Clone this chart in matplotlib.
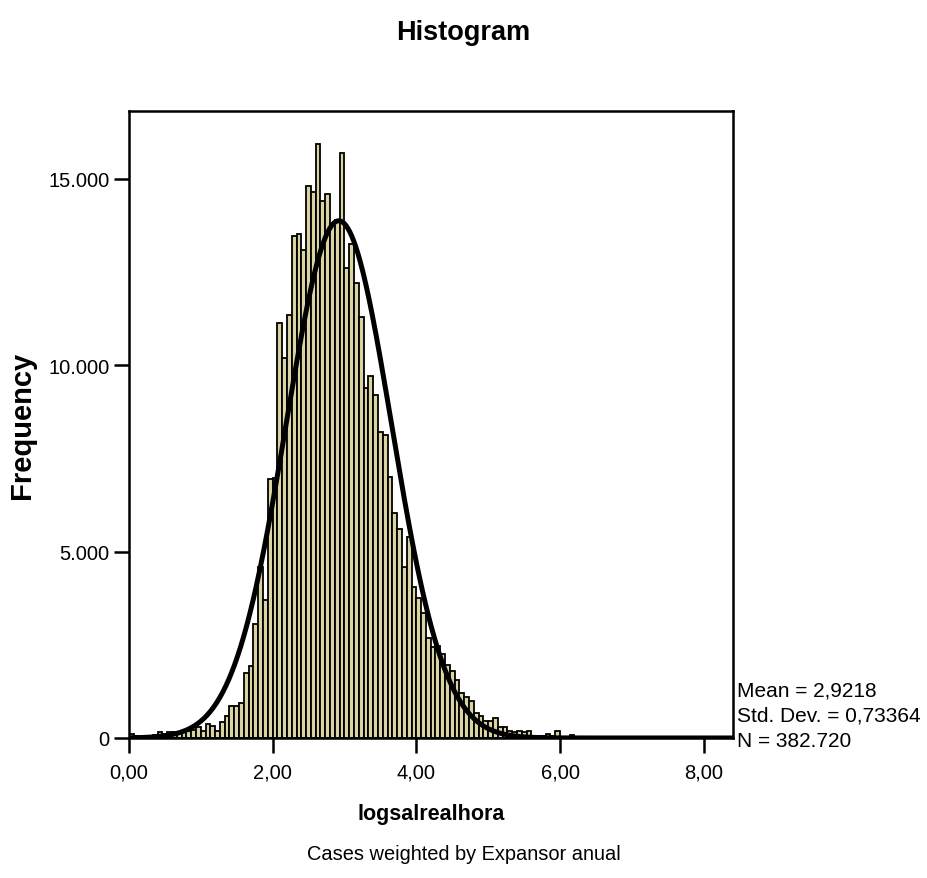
import matplotlib
matplotlib.use("Agg")
import matplotlib.pyplot as plt
from matplotlib.ticker import FuncFormatter
import numpy as np

plt.rcParams['font.family'] = ['Liberation Sans', 'DejaVu Sans']

## histogram of logsalrealhora (weighted counts per bin)
bin_start = 0.0
bin_width = 1 / 15
counts = [120, 50, 30, 40, 50, 70, 150, 120, 150, 160, 170, 190,
          200, 220, 290, 190, 370, 320, 200, 430, 600, 860, 860, 940,
          1740, 1930, 3060, 4600, 3700, 6950, 6970, 11130, 10200, 11350, 13470, 13520,
          13100, 14800, 14650, 15940, 14400, 14600, 13800, 13900, 15700, 12600, 13250, 12200,
          11300, 9400, 9700, 9200, 8200, 8130, 7000, 6040, 5600, 4600, 5400, 4050,
          3750, 3350, 2680, 2450, 2470, 2250, 1950, 1800, 1550, 1210, 1100, 1000,
          670, 590, 460, 460, 540, 300, 300, 200, 160, 190, 160, 180,
          60, 50, 50, 100, 50, 190, 20, 20, 80, 10, 10, 10]

mean = 2.9218
std_dev = 0.73364
n_cases = 382720

x_ticks = [0, 2, 4, 6, 8]
y_ticks = [0, 5000, 10000, 15000]

edges = bin_start + bin_width * np.arange(len(counts))

fig = plt.figure(figsize=(9.27, 8.79), dpi=100)
ax = fig.add_axes([0.139, 0.1593, 0.652, 0.7133])

ax.bar(edges, counts, width=bin_width, align='edge', color='#D9D4A2',
       edgecolor='black', linewidth=1.3)

## normal curve scaled to counts
xs = np.linspace(0, 8.41, 600)
pdf = np.exp(-0.5 * ((xs - mean) / std_dev) ** 2) / (std_dev * np.sqrt(2 * np.pi))
ax.plot(xs, n_cases * bin_width * pdf, color='black', linewidth=3.6)

ax.set_xlim(0, 8.41)
ax.set_ylim(0, 16820)
ax.set_xticks(x_ticks)
ax.set_yticks(y_ticks)
ax.xaxis.set_major_formatter(FuncFormatter(lambda v, p: f"{v:.2f}".replace('.', ',')))
ax.yaxis.set_major_formatter(FuncFormatter(lambda v, p: f"{int(v):,}".replace(',', '.')))
ax.tick_params(direction='out', length=11, width=1.8, labelsize=14.5)
ax.tick_params(axis='x', pad=7)
ax.tick_params(axis='y', pad=3)
for s in ax.spines.values():
    s.set_linewidth(1.8)

ax.set_xlabel("logsalrealhora", fontsize=15.5, fontweight='bold', labelpad=15)
ax.set_ylabel("Frequency", fontsize=21, fontweight='bold', labelpad=9)
fig.text(0.5, 0.963, "Histogram", fontsize=19.5, fontweight='bold', ha='center', va='center')
fig.text(0.5, 0.028, "Cases weighted by Expansor anual", fontsize=14.4, ha='center', va='center')

stats = ["Mean = 2,9218", "Std. Dev. = 0,73364", "N = 382.720"]
fig.text(0.795, 0.2245, "\n".join(stats), fontsize=15, ha='left', va='top',
         linespacing=1.4)

fig.savefig("out.png", dpi=100)
